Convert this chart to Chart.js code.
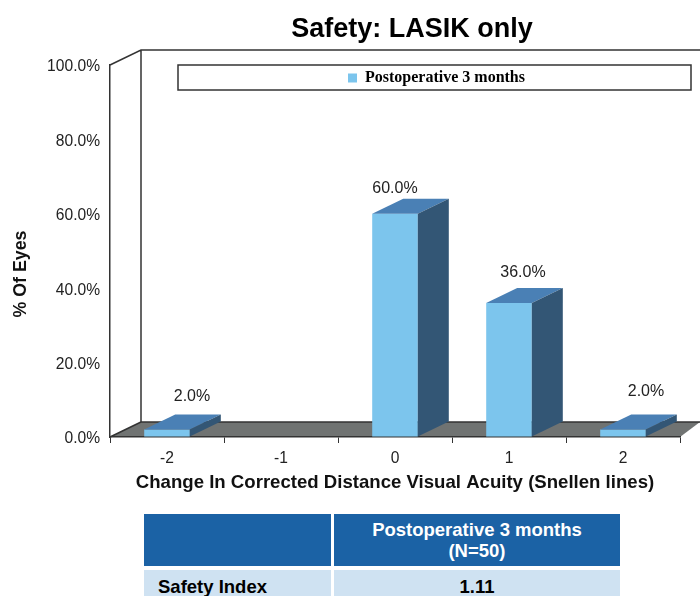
<!DOCTYPE html>
<html>
<head>
<meta charset="utf-8">
<title>Safety: LASIK only</title>
<script src="https://cdn.jsdelivr.net/npm/chart.js@4"></script>
<style>
  html, body { margin: 0; padding: 0; background: #fff; overflow: hidden; }
  #wrap { position: relative; width: 700px; height: 596px; }
  #chartBox { position: absolute; left: 0; top: 0; width: 700px; height: 500px; }
  table { position: absolute; left: 144px; top: 514px; width: 476px; height: 82px; border-collapse: collapse;
    font-family: "Liberation Sans", Arial, sans-serif; font-weight: bold; font-size: 18.5px; table-layout: fixed; }
  td { padding: 0; text-align: center; line-height: 21px; }
  .c1 { width: 187px; border-right: 3px solid #fff; }
  .head td { background: #1b62a5; color: #fff; height: 52px; border-bottom: 4px solid #fff; }
  .row td { background: #cfe2f2; color: #000; height: 26px; padding-top: 3px; }
  .row .c1 { text-align: left; padding-left: 14px; width: 173px; }
</style>
</head>
<body>
<div id="wrap">
  <div id="chartBox"><canvas id="safetyChart"></canvas></div>
  <table>
    <tr class="head"><td class="c1"></td><td>Postoperative 3 months<br>(N=50)</td></tr>
    <tr class="row"><td class="c1">Safety Index</td><td>1.11</td></tr>
  </table>
</div>
<script>
const categories = ['-2', '-1', '0', '1', '2'];
const eyesPercent = [2, 0, 60, 36, 2];
const seriesName = 'Postoperative 3 months';
const chartTitle = 'Safety: LASIK only';
const xTitle = 'Change In Corrected Distance Visual Acuity (Snellen lines)';
const yTitle = '% Of Eyes';

const depthX = 31;
const depthY = 15;
const sans = '"Liberation Sans", Arial, sans-serif';

function poly(ctx, pts, fill) {
  ctx.beginPath();
  pts.forEach((p, i) => i ? ctx.lineTo(p[0], p[1]) : ctx.moveTo(p[0], p[1]));
  ctx.closePath();
  ctx.fillStyle = fill;
  ctx.fill();
}

const boxPlugin = {
  id: 'boxPlugin',
  // title and legend don't sit on the plot centre in the original
  afterLayout(chart) {
    chart.titleBlock.left = 124;
    chart.titleBlock.right = 700;
    chart.legend.left = 340;
    chart.legend.top = 62;
  },
  beforeDraw(chart) {
    const ctx = chart.ctx;
    const { left, right, top, bottom } = chart.chartArea;
    ctx.save();
    // floor
    poly(ctx, [[left, bottom], [left + depthX, bottom - depthY], [right + 20, bottom - depthY], [right, bottom]], '#707372');
    // back wall and side wall
    ctx.strokeStyle = '#333';
    ctx.lineWidth = 1.5;
    ctx.beginPath();
    ctx.moveTo(left, top);
    ctx.lineTo(left + depthX, top - depthY);
    ctx.lineTo(right + 20, top - depthY);
    ctx.moveTo(left + depthX, top - depthY);
    ctx.lineTo(left + depthX, bottom - depthY);
    ctx.lineTo(right + 20, bottom - depthY);
    ctx.moveTo(left, bottom);
    ctx.lineTo(left + depthX, bottom - depthY);
    ctx.stroke();
    // legend frame
    ctx.fillStyle = '#fff';
    ctx.fillRect(178, 65, 513, 25);
    ctx.strokeRect(178, 65, 513, 25);
    ctx.restore();
  },
  afterDatasetsDraw(chart) {
    const ctx = chart.ctx;
    const bars = chart.getDatasetMeta(0).data;
    // value labels were nudged by hand in the original
    const shiftX = [25, 0, 0, 14, 23];
    const shiftY = [33, 0, 25, 30, 38];
    ctx.save();
    bars.forEach((bar, i) => {
      if (!eyesPercent[i]) return;
      const half = bar.width / 2;
      const l = bar.x - half, r = bar.x + half, t = bar.y, b = bar.base;
      poly(ctx, [[l, t], [r, t], [r + depthX, t - depthY], [l + depthX, t - depthY]], '#4a80b5');
      poly(ctx, [[r, t], [r + depthX, t - depthY], [r + depthX, b - depthY], [r, b]], '#335675');
      ctx.fillStyle = '#222';
      ctx.font = '16px ' + sans;
      ctx.textAlign = 'center';
      ctx.textBaseline = 'middle';
      ctx.fillText(eyesPercent[i].toFixed(1) + '%', bar.x + shiftX[i], t - shiftY[i]);
    });
    // y title sits below the plot centre, the scale title can't do that
    ctx.translate(21, 274);
    ctx.rotate(-Math.PI / 2);
    ctx.fillStyle = '#111';
    ctx.font = 'bold 17.8px ' + sans;
    ctx.fillText(yTitle, 0, 0);
    ctx.restore();
  }
};

new Chart(document.getElementById('safetyChart').getContext('2d'), {
  type: 'bar',
  data: {
    labels: categories,
    datasets: [{
      label: seriesName,
      data: eyesPercent,
      backgroundColor: '#7cc5ed',
      categoryPercentage: 1,
      barPercentage: 0.4
    }]
  },
  options: {
    responsive: true,
    maintainAspectRatio: false,
    animation: false,
    layout: { padding: { left: 0, right: 20, top: 0, bottom: 0 } },
    plugins: {
      tooltip: { enabled: false },
      title: {
        display: true,
        text: chartTitle,
        color: '#000',
        font: { family: sans, size: 27, weight: 'bold', lineHeight: 1.2 },
        padding: { top: 13, bottom: 19.6 }
      },
      legend: {
        position: 'chartArea',
        align: 'start',
        labels: {
          boxWidth: 9,
          boxHeight: 9,
          color: '#000',
          padding: 8,
          font: { family: '"Liberation Serif", serif', size: 16, weight: 'bold' }
        }
      }
    },
    scales: {
      x: {
        afterFit(scale) { scale.height = 63; },
        grid: { offset: true, drawOnChartArea: false, tickLength: 6, color: '#333' },
        border: { color: '#333', width: 1.5 },
        ticks: { color: '#222', font: { family: sans, size: 15.6 }, padding: 6, maxRotation: 0 },
        title: {
          display: true,
          text: xTitle,
          color: '#111',
          font: { family: sans, size: 18.6, weight: 'bold' },
          padding: { top: 2, bottom: 6 }
        }
      },
      y: {
        min: 0,
        max: 100,
        afterFit(scale) { scale.width = 110; },
        grid: { drawOnChartArea: false, drawTicks: false },
        border: { color: '#333', width: 1.5 },
        ticks: {
          stepSize: 20,
          color: '#222',
          padding: 10,
          labelOffset: 2,
          font: { family: sans, size: 15.6 },
          callback: v => v.toFixed(1) + '%'
        }
      }
    }
  },
  plugins: [boxPlugin]
});
</script>
</body>
</html>
